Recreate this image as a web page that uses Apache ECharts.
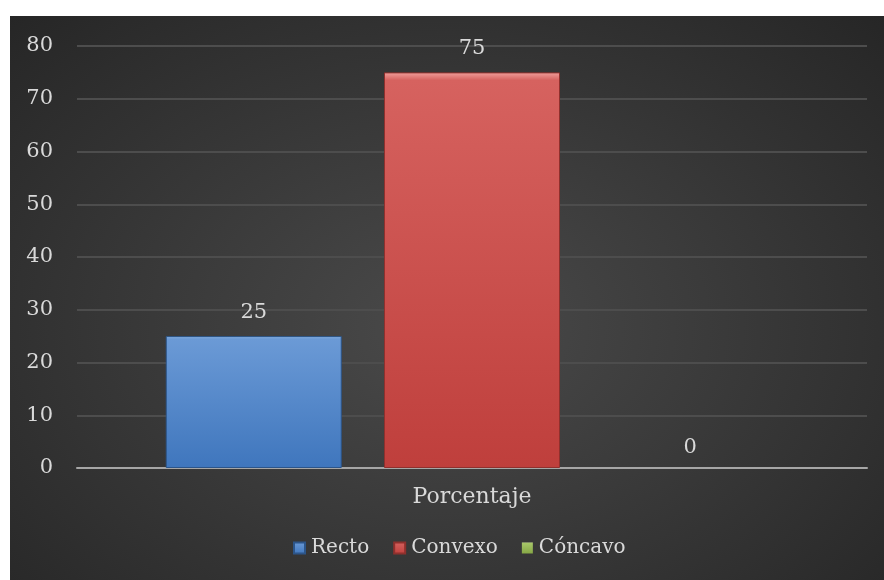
<!DOCTYPE html>
<html>
<head>
<meta charset="utf-8">
<script src="https://cdn.jsdelivr.net/npm/echarts@6/dist/echarts.min.js"></script>
<style>
  html, body { margin: 0; padding: 0; background: #ffffff; }
  #main {
    position: absolute; left: 10px; top: 16px; width: 874px; height: 564px;
    background: radial-gradient(ellipse at 50% 55%, #4a4a4a 0%, #3a3a3a 45%, #262626 100%);
  }
</style>
</head>
<body>
<div id="main"></div>
<script>
const categories = ['Porcentaje'];
const seriesNames = ['Recto', 'Convexo', 'Cóncavo'];
const recto = [25];
const convexo = [75];
const concavo = [0];
const yTicks = [0, 80, 10]; // min, max, interval

const FONT = '"DejaVu Serif", "Liberation Serif", serif';

function grad(hi, top, bottom) {
    return new echarts.graphic.LinearGradient(0, 0, 0, 1, [
        { offset: 0, color: hi },
        { offset: 0.02, color: top },
        { offset: 1, color: bottom }
    ]);
}

const colors = [
    { fill: grad('#9cc4f2', '#6b9ad6', '#3f76bd'), border: '#2c5589', bw: 1 },
    { fill: grad('#f0a09c', '#d6625f', '#bf3f3c'), border: '#8f302d', bw: 1 },
    { fill: grad('#c8e08f', '#a8c86a', '#86a745'), border: '#6b8a35', bw: 0 }
];

const chart = echarts.init(document.getElementById('main'));
chart.setOption({
    backgroundColor: 'transparent',
    textStyle: { fontFamily: FONT },
    grid: { left: 67, right: 17, top: 30, bottom: 112 },
    legend: {
        data: seriesNames,
        bottom: 17,
        left: 278,
        icon: 'rect',
        itemWidth: 11,
        itemHeight: 11,
        itemGap: 24,
        textStyle: { color: '#d9d9d9', fontSize: 20, fontFamily: FONT, padding: [0, 0, 0, 1] }
    },
    xAxis: {
        type: 'category',
        data: categories,
        axisLine: { lineStyle: { color: '#a6a6a6', width: 2 } },
        axisTick: { show: false },
        axisLabel: { color: '#d9d9d9', fontSize: 22, margin: 18, fontFamily: FONT }
    },
    yAxis: {
        type: 'value',
        min: yTicks[0],
        max: yTicks[1],
        interval: yTicks[2],
        axisLine: { show: false },
        axisTick: { show: false },
        axisLabel: { color: '#d9d9d9', fontSize: 21, margin: 24, fontFamily: FONT },
        splitLine: { lineStyle: { color: '#4d4d4d', width: 2 } }
    },
    series: [recto, convexo, concavo].map((d, i) => ({
        name: seriesNames[i],
        type: 'bar',
        data: d,
        barWidth: 176,
        barGap: '24%',
        itemStyle: {
            color: colors[i].fill,
            borderColor: colors[i].border,
            borderWidth: colors[i].bw
        },
        label: {
            show: true,
            position: 'top',
            distance: i === 2 ? 10 : 13,
            color: '#d9d9d9',
            fontSize: 21,
            fontFamily: FONT
        }
    }))
});
</script>
</body>
</html>
